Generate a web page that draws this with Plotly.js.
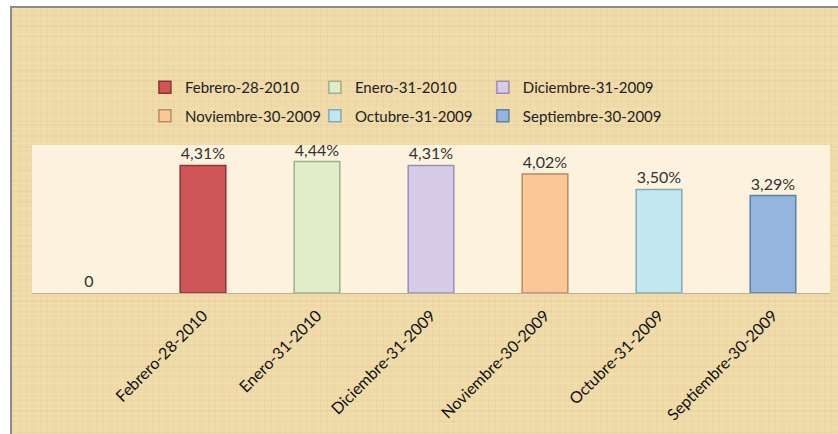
<!DOCTYPE html>
<html>
<head>
<meta charset="utf-8">
<script src="https://cdn.plot.ly/plotly-3.0.1.min.js"></script>
<style>
  html, body { margin: 0; padding: 0; background: #ffffff; overflow: hidden; }
  #chart {
    position: absolute; left: 10px; top: 6px;
    width: 826px; height: 426px;
    border-left: 2px solid #8c8c8c; border-top: 2px solid #8c8c8c;
    background:
      repeating-linear-gradient(90deg, rgba(190,150,80,0.07) 0 1px, transparent 1px 7px),
      repeating-linear-gradient(0deg, rgba(255,250,230,0.16) 0 1px, transparent 1px 5px),
      repeating-linear-gradient(0deg, rgba(200,160,90,0.06) 0 2px, transparent 2px 11px),
      #efdaa8;
  }
</style>
</head>
<body>
<div id="chart"></div>
<script>
// fechas de corte y tasas (%)
var categories = ["Febrero-28-2010", "Enero-31-2010", "Diciembre-31-2009",
                  "Noviembre-30-2009", "Octubre-31-2009", "Septiembre-30-2009"];
var values = [4.31, 4.44, 4.31, 4.02, 3.50, 3.29];
var blankCategory = " ";
var blankValue = 0;

var fills = ["#cf5656", "#e1edc9", "#d6cce7", "#fcc797", "#c1e7f0", "#93b5de"];
var edges = ["#8e3434", "#9fb08c", "#9a8fb3", "#b98b60", "#86aab5", "#5f7fa8"];
// legend column of each series (3 columns x 2 rows)
var legendIds = ["legend", "legend2", "legend3"];

var data = [{
  type: "bar",
  x: [blankCategory],
  y: [blankValue],
  width: 0.4,
  showlegend: false,
  marker: { color: "rgba(0,0,0,0)" },
  text: [String(blankValue)],
  textposition: "outside",
  cliponaxis: false,
  textfont: { family: "Lato, sans-serif", size: 16, color: "#333333" },
  hoverinfo: "skip"
}];

categories.forEach(function (c, i) {
  data.push({
    type: "bar",
    name: c,
    legend: legendIds[i % 3],
    legendgroup: c,
    x: [c],
    y: [values[i]],
    width: 0.4,
    marker: { color: fills[i], line: { color: edges[i], width: 1.5 } },
    texttemplate: "%{y:.2f}%",
    textposition: "outside",
    cliponaxis: false,
    textfont: { family: "Lato, sans-serif", size: 16, color: "#333333" }
  });
});

function legendCol(x) {
  return {
    orientation: "v",
    x: x, xanchor: "left",
    y: 1.5, yanchor: "top",
    traceorder: "grouped",
    tracegroupgap: 6,
    bgcolor: "rgba(0,0,0,0)",
    font: { family: "Lato, sans-serif", size: 15, color: "#222222" }
  };
}

var layout = {
  width: 826,
  height: 426,
  margin: { l: 20, r: 8, t: 137, b: 141, autoexpand: false },
  paper_bgcolor: "rgba(0,0,0,0)",
  plot_bgcolor: "#fcf2de",
  separators: ",.",
  barmode: "overlay",
  font: { family: "Lato, sans-serif", size: 16, color: "#222222" },
  showlegend: true,
  legend: legendCol(0.1415),
  legend2: legendCol(0.3545),
  legend3: legendCol(0.5650),
  xaxis: {
    type: "category",
    categoryorder: "array",
    categoryarray: [blankCategory].concat(categories),
    range: [-0.5, 6.5],
    tickangle: -45,
    ticks: "",
    ticklabelstandoff: 6,
    showline: true,
    linecolor: "#b8b0a0",
    linewidth: 1,
    tickfont: { family: "Lato, sans-serif", size: 16, color: "#111111" },
    fixedrange: true
  },
  yaxis: {
    range: [0, 5],
    showticklabels: false,
    showgrid: false,
    zeroline: false,
    ticks: "",
    fixedrange: true
  }
};

Plotly.newPlot("chart", data, layout, { displayModeBar: false, staticPlot: true });
</script>
</body>
</html>
